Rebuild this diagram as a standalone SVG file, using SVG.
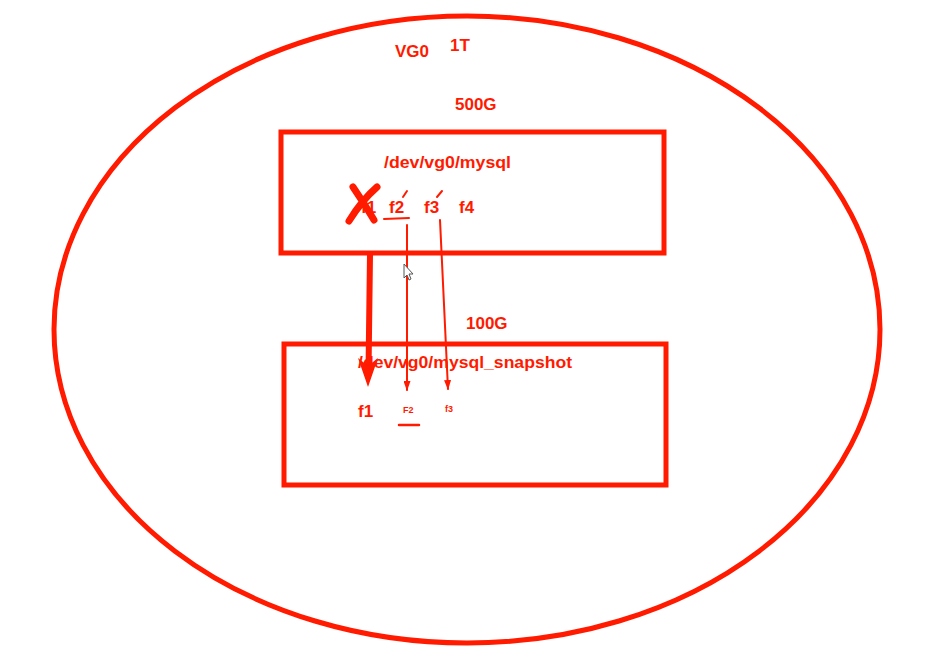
<svg xmlns="http://www.w3.org/2000/svg" width="938" height="658" viewBox="0 0 938 658">
<style>
.ln{fill:none;stroke:#ff1a00;stroke-linecap:round}
.t{font-family:"Liberation Sans",Arial,sans-serif;font-weight:bold;fill:#ff1a00;font-size:17px}
.hd{fill:#ff1a00}
</style>
<defs>
<marker id="ahs" viewBox="0 0 10 10" refX="9" refY="5" markerWidth="10" markerHeight="7" orient="auto" markerUnits="userSpaceOnUse" preserveAspectRatio="none">
<path d="M0,0 L10,5 L0,10 Z" fill="#ff1a00"/>
</marker>
</defs>
<rect width="938" height="658" fill="#fff"/>
<g id="vg0">
<ellipse cx="467" cy="329.5" rx="413" ry="313.5" class="ln" stroke-width="5"/>
<text class="t" x="395" y="57">VG0</text>
<text class="t" x="450" y="51">1T</text>
</g>
<g id="mysql">
<rect x="281" y="132" width="383" height="121" class="ln" stroke-width="5"/>
<text class="t" x="455" y="110">500G</text>
<text class="t" x="384" y="168" textLength="127" lengthAdjust="spacingAndGlyphs">/dev/vg0/mysql</text>
<text class="t" x="361" y="213">f1</text>
<text class="t" x="389" y="213">f2</text>
<text class="t" x="424" y="213">f3</text>
<text class="t" x="459" y="213">f4</text>
<path d="M384,219 L409,218" class="ln" stroke-width="2"/>
<path d="M403,197 L407,191 M437,197 L442,191" class="ln" stroke-width="2"/>
<path d="M353,187 Q364,203 374,220 M377,187 Q362,200 349,221" class="ln" stroke-width="7"/>
</g>
<g id="snapshot">
<rect x="284" y="344" width="382" height="141" class="ln" stroke-width="5"/>
<text class="t" x="466" y="329">100G</text>
<text class="t" x="358" y="368" textLength="214" lengthAdjust="spacingAndGlyphs">/dev/vg0/mysql_snapshot</text>
<text class="t" x="358" y="417">f1</text>
<text class="t" x="403" y="413" style="font-size:9px">F2</text>
<text class="t" x="445" y="412" style="font-size:9px">f3</text>
<path d="M399,425 L419,425" class="ln" stroke-width="2.5"/>
</g>
<g id="connectors">
<path d="M370,255 L368.5,372" class="ln" stroke-width="6" stroke-linecap="butt"/>
<path d="M368,387 L358,358 L368,366 L378,358 Z" class="hd"/>
<path d="M407,225 L407,390" class="ln" stroke-width="2" marker-end="url(#ahs)"/>
<path d="M440,220 L448,389" class="ln" stroke-width="2" marker-end="url(#ahs)"/>
</g>
<g id="cursor">
<path d="M404,264 L404,278 L407,275 L409,280 L411,279 L409,274 L413,274 Z" fill="#fff" stroke="#555" stroke-width="1"/>
</g>
</svg>
